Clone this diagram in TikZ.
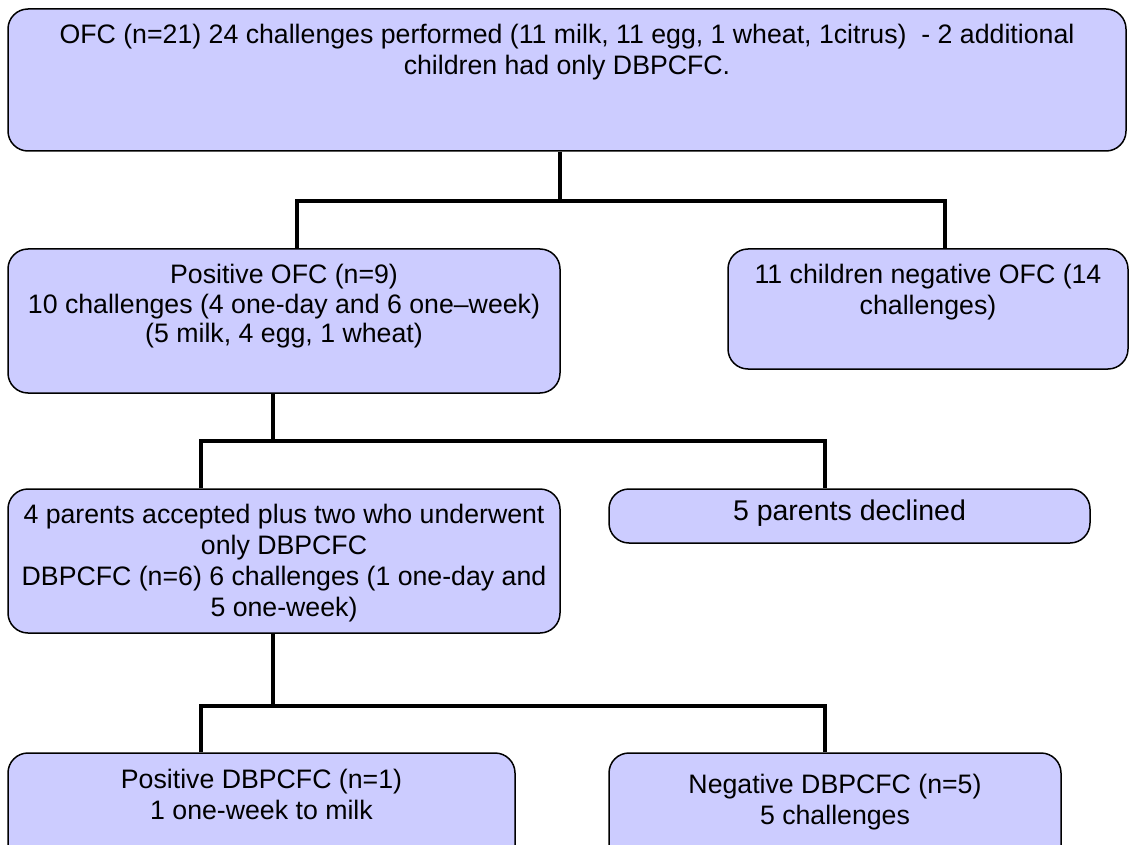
\documentclass[tikz,border=0pt]{standalone}
\usepackage{fontspec}
\setmainfont{Liberation Sans}
\definecolor{boxfill}{HTML}{CCCCFF}
\begin{document}
\begin{tikzpicture}[x=1pt,y=-1pt,
  box/.style={draw=black, fill=boxfill, rounded corners=20pt, line width=1.5pt, inner sep=0pt},
  txt/.style={anchor=north, align=center, inner sep=0pt, font={\fontsize{26.7}{31}\selectfont}},
  conn/.style={draw=black, line width=3.2pt}]
\clip (0,0) rectangle (1130,845);

% boxes
\node[box, minimum width=1118pt, minimum height=142pt] (top)  at (567,80) {};
\node[box, minimum width=552pt,  minimum height=144pt] (pos)  at (284,321) {};
\node[box, minimum width=400pt,  minimum height=120pt] (neg)  at (928,309) {};
\node[box, minimum width=552pt,  minimum height=144pt] (acc)  at (284,561) {};
\node[box, minimum width=481pt,  minimum height=54pt]  (dec)  at (849.5,516) {};
\node[box, minimum width=507pt,  minimum height=127pt] (posd) at (261.5,816.5) {};
\node[box, minimum width=452pt,  minimum height=127pt] (negd) at (835,816.5) {};

% texts
\node[txt] (top-t) at (567,24) {OFC (n=21) 24 challenges performed (11 milk, 11 egg, 1 wheat, 1citrus)\ \ - 2 additional\\children had only DBPCFC.};
\node[txt, font={\fontsize{26.7}{29.5}\selectfont}] (pos-t) at (284,264) {Positive OFC (n=9)\\10 challenges (4 one-day and 6 one--week)\\(5 milk, 4 egg, 1 wheat)};
\node[txt] (neg-t) at (928,264) {11 children negative OFC (14\\challenges)};
\node[txt] (acc-t) at (284,504) {4 parents accepted plus two who underwent\\only DBPCFC\\DBPCFC (n=6) 6 challenges (1 one-day and\\5 one-week)};
\node[txt, font={\fontsize{28.5}{33}\selectfont}] (dec-t) at (849.5,500) {5 parents declined};
\node[txt] (posd-t) at (261.5,769) {Positive DBPCFC (n=1)\\1 one-week to milk};
\node[txt] (negd-t) at (835,774) {Negative DBPCFC (n=5)\\5 challenges};

% branch points
\coordinate (j1)  at (560,201);
\coordinate (j1l) at (297,201);
\coordinate (j1r) at (945,201);
\coordinate (j2)  at (273,441);
\coordinate (j2l) at (201,441);
\coordinate (j2r) at (825,441);
\coordinate (j3)  at (273,706);
\coordinate (j3l) at (201,706);
\coordinate (j3r) at (825,706);

% connectors
\draw[conn] (top.south -| j1) -- (j1);
\draw[conn] (pos.north -| j1l) -- (j1l) -- (j1r) -- (neg.north -| j1r);
\draw[conn] (pos.south -| j2) -- (j2);
\draw[conn] (acc.north -| j2l) -- (j2l) -- (j2r) -- (dec.north -| j2r);
\draw[conn] (acc.south -| j3) -- (j3);
\draw[conn] (posd.north -| j3l) -- (j3l) -- (j3r) -- (negd.north -| j3r);
\end{tikzpicture}
\end{document}
